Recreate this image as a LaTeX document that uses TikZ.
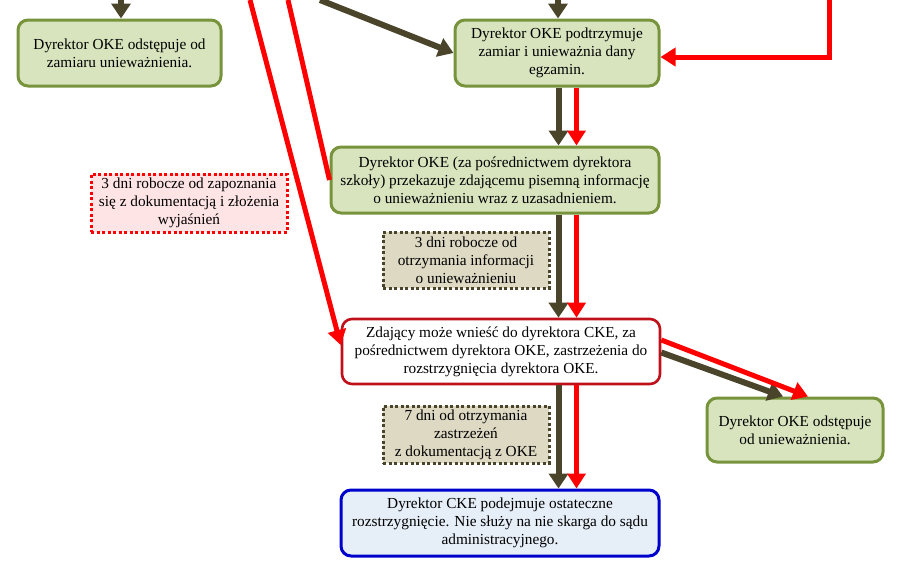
\documentclass[tikz,border=0pt]{standalone}
\usepackage{fontspec}
\setmainfont{Liberation Serif}
\usetikzlibrary{arrows.meta,calc}
\definecolor{gfill}{HTML}{D7E4BD}
\definecolor{gdraw}{HTML}{77933C}
\definecolor{dk}{HTML}{4A452A}
\definecolor{rd}{HTML}{FF0000}
\definecolor{dred}{HTML}{C0101A}
\definecolor{bdraw}{HTML}{0000CC}
\definecolor{bfill}{HTML}{E6EEF8}
\definecolor{nfill}{HTML}{DDD9C3}
\definecolor{ndraw}{HTML}{4A452A}
\definecolor{pfill}{HTML}{FFE4E6}
\begin{document}
\begin{tikzpicture}[x=1pt,y=-1pt,
  txt/.style={align=center, inner sep=0pt, font=\fontsize{15.3}{18}\selectfont},
  box/.style={txt, rounded corners=10pt, line width=3pt},
  gbox/.style={box, draw=gdraw, fill=gfill},
  rbox/.style={box, draw=dred, fill=white, line width=2.6pt},
  bbox/.style={box, draw=bdraw, fill=bfill},
  note/.style={txt, line width=3pt, dash pattern=on 3pt off 2.5pt},
  dnote/.style={note, draw=ndraw, fill=nfill},
  rnote/.style={note, draw=rd, fill=pfill},
  darr/.style={draw=dk, line width=6pt, -{Triangle[width=19pt,length=15pt]}},
  rarr/.style={draw=rd, line width=5pt, -{Triangle[width=18pt,length=15pt]}},
  rline/.style={draw=rd, line width=5pt},
]
\useasboundingbox (0,0) rectangle (904,581);

% boxes
\node[gbox, minimum width=203pt, minimum height=66pt] (A) at (119.5,53)
  {Dyrektor OKE odstępuje od\\zamiaru unieważnienia.};
\node[gbox, minimum width=204pt, minimum height=66pt] (B) at (557,53)
  {Dyrektor OKE podtrzymuje\\zamiar i unieważnia dany\\egzamin.};
\node[gbox, minimum width=328pt, minimum height=66pt] (C) at (495,180)
  {Dyrektor OKE (za pośrednictwem dyrektora\\szkoły) przekazuje zdającemu pisemną informację\\o unieważnieniu wraz z uzasadnieniem.};
\node[rbox, minimum width=318pt, minimum height=65pt] (D) at (501,351.5)
  {Zdający może wnieść do dyrektora CKE, za\\pośrednictwem dyrektora OKE, zastrzeżenia do\\rozstrzygnięcia dyrektora OKE.};
\node[gbox, minimum width=176pt, minimum height=64pt] (E) at (795,430)
  {Dyrektor OKE odstępuje\\od unieważnienia.};
\node[bbox, minimum width=318pt, minimum height=66pt] (F) at (500,523)
  {Dyrektor CKE podejmuje ostateczne\\rozstrzygnięcie. Nie służy na nie skarga do sądu\\administracyjnego.};

% notes
\node[rnote, minimum width=196pt, minimum height=58pt] (N1) at (189,203)
  {3 dni robocze od zapoznania\\się z dokumentacją i złożenia\\wyjaśnień};
\node[dnote, minimum width=166pt, minimum height=56pt] (N2) at (466,260)
  {3 dni robocze od\\otrzymania informacji\\o unieważnieniu};
\node[dnote, minimum width=166pt, minimum height=57pt] (N3) at (466,434.5)
  {7 dni od otrzymania\\zastrzeżeń\\z dokumentacją z OKE};

% free ends
\coordinate (tA) at (121,0);
\coordinate (tB) at (558,0);
\coordinate (tR) at (829,0);
\coordinate (tD) at (320,0);
\coordinate (tR1) at (250,0);
\coordinate (tR2) at (288,0);
\coordinate (xd) at (558.5,0);
\coordinate (xr) at (576.5,0);

% connectors
\draw[darr] (tA) -- (A.north -| tA);
\draw[darr] (tB) -- (B.north -| tB);
\draw[darr] (tD) -- (B.west);
\draw[rarr] (tR) |- ([yshift=-4pt]B.east);
\draw[rline] (tR2) -- (C.west);
\draw[rarr] (tR1) -- ([yshift=6.5pt]D.west);

\draw[darr] (B.south -| xd) -- (C.north -| xd);
\draw[rarr] (B.south -| xr) -- (C.north -| xr);
\draw[darr] (C.south -| xd) -- (D.north -| xd);
\draw[rarr] (C.south -| xr) -- (D.north -| xr);
\draw[darr] (D.south -| xd) -- (F.north -| xd);
\draw[rarr] (D.south -| xr) -- (F.north -| xr);

\draw[darr] ([yshift=-1pt]D.east) -- ([xshift=-12pt]E.north);
\draw[rarr] ([yshift=11.5pt]D.east) -- ([xshift=13pt]E.north);
\end{tikzpicture}
\end{document}
